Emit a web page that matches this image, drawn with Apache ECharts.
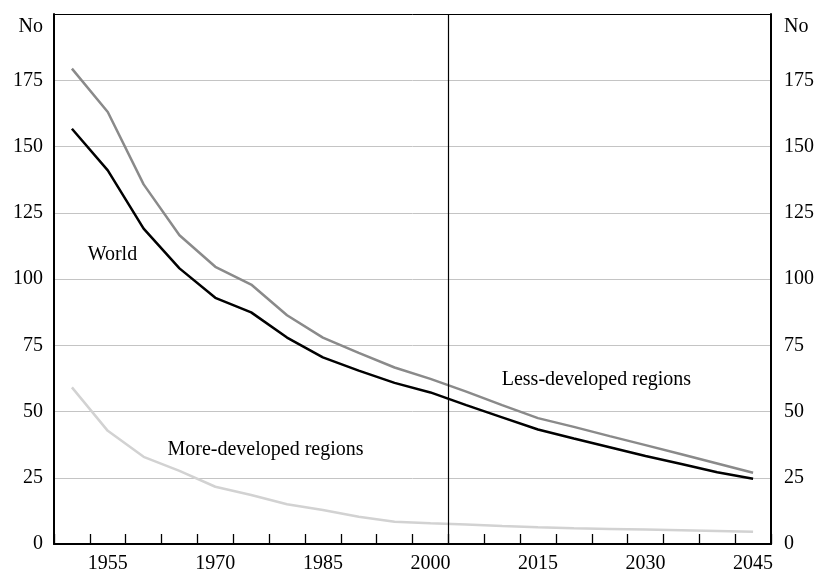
<!DOCTYPE html>
<html>
<head>
<meta charset="utf-8">
<script src="https://cdn.jsdelivr.net/npm/echarts@6/dist/echarts.min.js"></script>
<style>
  html, body { margin: 0; background: #fff; }
  #chart { width: 817px; height: 575px; }
</style>
</head>
<body>
<div id="chart"></div>
<script>
// 5-year periods, labelled by first year
const years = ['1950', '1955', '1960', '1965', '1970', '1975', '1980', '1985', '1990', '1995',
  '2000', '2005', '2010', '2015', '2020', '2025', '2030', '2035', '2040', '2045']
const shownYears = ['1955', '1970', '1985', '2000', '2015', '2030', '2045']

const lessDeveloped = [179.4, 163, 135.7, 116.5, 104.6, 97.9, 86.3, 77.9, 72.1, 66.6,
  62.3, 57.5, 52.4, 47.5, 44.2, 40.7, 37.3, 33.9, 30.4, 26.9]
const world = [156.7, 141, 119, 104, 92.9, 87.4, 77.9, 70.4, 65.4, 60.8,
  57.2, 52.4, 47.8, 43.2, 39.8, 36.5, 33.2, 30.2, 27.1, 24.6]
const moreDeveloped = [59.1, 42.7, 32.9, 27.6, 21.6, 18.5, 15, 12.8, 10.3, 8.4,
  7.8, 7.4, 6.8, 6.3, 5.9, 5.7, 5.5, 5.2, 4.9, 4.6]

// projection starts after the 2000 period (boundary index on 0..20 scale)
const projectionStart = 11

// in-chart labels: text, position on period scale (0..20), value
const noteTexts = ['World', 'More-developed regions', 'Less-developed regions']
const noteX = [1.63, 5.9, 15.13]
const noteY = [109, 35.4, 62.1]

const font = 'Liberation Serif'

const chart = echarts.init(document.getElementById('chart'))

const yCommon = {
  type: 'value',
  min: 0,
  max: 200,
  interval: 25,
  name: 'No',
  nameLocation: 'end',
  nameGap: -13,
  axisTick: { show: false },
  axisLine: { show: true, lineStyle: { color: '#000', width: 2 } },
  axisLabel: { color: '#000', fontFamily: font, fontSize: 20, showMaxLabel: false }
}

chart.setOption({
  animation: false,
  grid: { left: 54, right: 45, top: 14, bottom: 31, containLabel: false },
  xAxis: [
    {
      type: 'category',
      data: years,
      boundaryGap: true,
      position: 'bottom',
      axisLine: { lineStyle: { color: '#000', width: 2 } },
      axisTick: { show: true, inside: true, length: 10, interval: 0, lineStyle: { color: '#000', width: 1.3 } },
      axisLabel: {
        color: '#000', fontFamily: font, fontSize: 20, margin: 10,
        interval: 0,
        formatter: (v) => shownYears.includes(v) ? v : ''
      },
      splitLine: { show: false }
    },
    {
      type: 'value',
      min: 0,
      max: 20,
      position: 'top',
      axisLine: { show: true, onZero: false, lineStyle: { color: '#000', width: 1 } },
      axisTick: { show: false },
      axisLabel: { show: false },
      splitLine: { show: false }
    }
  ],
  yAxis: [
    Object.assign({}, yCommon, {
      position: 'left',
      nameTextStyle: { color: '#000', fontFamily: font, fontSize: 20, align: 'right', verticalAlign: 'middle', padding: [0, 11, 0, 0] },
      axisLabel: Object.assign({}, yCommon.axisLabel, { margin: 11 }),
      splitLine: { show: true, lineStyle: { color: '#c4c4c4', width: 1 } }
    }),
    Object.assign({}, yCommon, {
      position: 'right',
      nameTextStyle: { color: '#000', fontFamily: font, fontSize: 20, align: 'left', verticalAlign: 'middle', padding: [0, 0, 0, 13] },
      axisLabel: Object.assign({}, yCommon.axisLabel, { margin: 13 }),
      splitLine: { show: false }
    })
  ],
  series: [
    {
      name: 'More-developed regions',
      type: 'line',
      data: moreDeveloped,
      symbol: 'none',
      lineStyle: { color: '#d2d2d2', width: 2.5 }
    },
    {
      name: 'Less-developed regions',
      type: 'line',
      data: lessDeveloped,
      symbol: 'none',
      lineStyle: { color: '#8a8a8a', width: 2.5 }
    },
    {
      name: 'World',
      type: 'line',
      data: world,
      symbol: 'none',
      lineStyle: { color: '#000', width: 2.5 }
    },
    {
      name: 'notes',
      type: 'scatter',
      xAxisIndex: 1,
      yAxisIndex: 0,
      symbolSize: 0,
      itemStyle: { opacity: 1, color: '#000' },
      data: noteTexts.map((t, i) => [noteX[i], noteY[i], t]),
      label: {
        show: true,
        position: 'inside',
        formatter: (p) => p.data[2],
        color: '#000',
        fontFamily: font,
        fontSize: 20
      },
      markLine: {
        silent: true,
        symbol: 'none',
        label: { show: false },
        lineStyle: { color: '#000', width: 1.2, type: 'solid' },
        data: [{ xAxis: projectionStart }]
      }
    }
  ]
})
</script>
</body>
</html>
